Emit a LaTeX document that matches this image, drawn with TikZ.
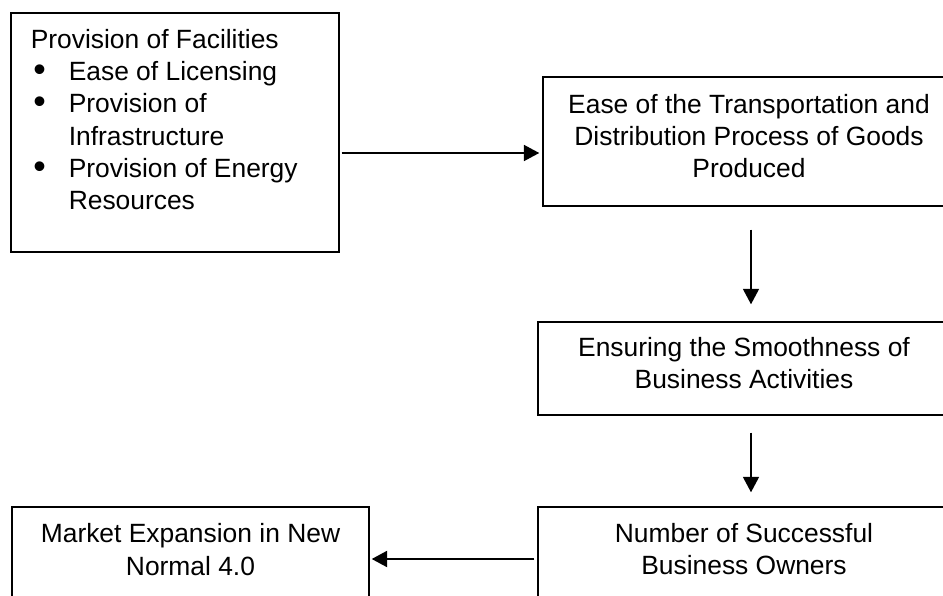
\documentclass[tikz,border=0pt]{standalone}
\usepackage{fontspec}
\setmainfont{Liberation Sans}
\usetikzlibrary{arrows.meta}
\newlength\px
\setlength\px{0.75pt}
\newcommand\mybul{\makebox[38\px][l]{\hspace{2.5\px}\raisebox{-0.8pt}{\scalebox{1.35}{\textbullet}}}}
\tikzset{
  box/.style={draw=black, line width=1.1pt, rectangle, inner sep=0pt},
  txt/.style={inner sep=0pt, align=center, font={\fontsize{19.8pt}{24.2pt}\selectfont}},
  ltxt/.style={inner sep=0pt, align=left, font={\fontsize{19.8pt}{24.2pt}\selectfont}},
  arr/.style={draw=black, line width=1pt, -{Triangle[length=11.5pt,width=12pt]}}
}
\begin{document}
\begin{tikzpicture}[x=0.75pt,y=-0.75pt]
\useasboundingbox (0,0) rectangle (943,596);
\clip (0,0) rectangle (943,596);
\fill[white] (0,0) rectangle (943,596);
% boxes
\node[box, minimum width=328\px, minimum height=239\px] (b1) at (175,132.5) {};
\node[box, minimum width=412\px, minimum height=129\px] (b2) at (749,141.5) {};
\node[box, minimum width=412\px, minimum height=93\px] (b3) at (744,368.5) {};
\node[box, minimum width=412\px, minimum height=133\px] (b4) at (744,573.5) {};
\node[box, minimum width=357\px, minimum height=133\px] (b5) at (190.5,573.5) {};
% texts
\node[ltxt, anchor=north west] (t1) at (30.5,29) {Provision of Facilities\\
\mybul Ease of Licensing\\
\mybul Provision of\\
\makebox[38\px][l]{}Infrastructure\\
\mybul Provision of Energy\\
\makebox[38\px][l]{}Resources};
\node[txt] (t2) at (749,136) {Ease of the Transportation and\\Distribution Process of Goods\\Produced};
\node[txt] (t3) at (744,363) {Ensuring the Smoothness of\\Business Activities};
\node[txt] (t4) at (744,549) {Number of Successful\\Business Owners};
\node[txt] (t5) at (190.5,549.5) {Market Expansion in New\\Normal 4.0};
% connectors
\coordinate (y12) at (0,153);
\coordinate (xv) at (751,0);
\coordinate (y45) at (0,559);
\draw[arr, line width=1.2pt, shorten <=2\px, shorten >=3\px] (b1.east |- y12) -- (b2.west |- y12);
\draw[arr, shorten <=23\px, shorten >=17\px] (b2.south -| xv) -- (b3.north -| xv);
\draw[arr, shorten <=17\px, shorten >=14\px] (b3.south -| xv) -- (b4.north -| xv);
\draw[arr, line width=1.5pt, shorten <=3\px, shorten >=2\px] (b4.west |- y45) -- (b5.east |- y45);
\end{tikzpicture}
\end{document}
